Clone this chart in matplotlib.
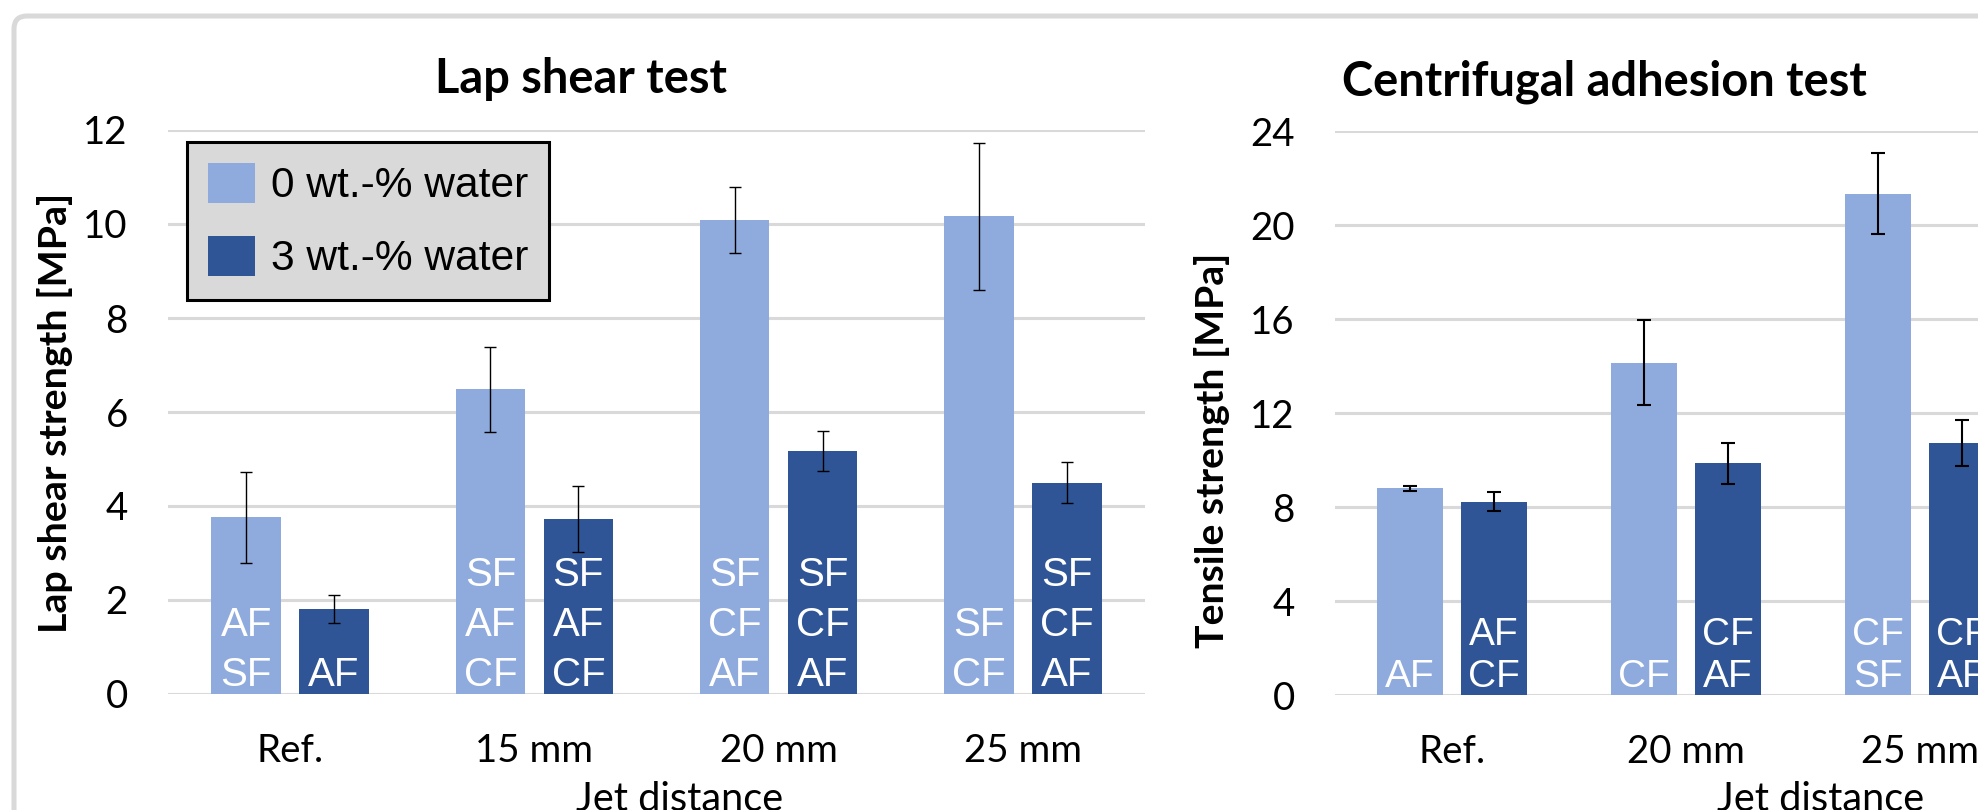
import matplotlib
matplotlib.use("Agg")
import matplotlib.pyplot as plt
from matplotlib.patches import FancyBboxPatch, Patch
import numpy as np

# ---------------- data ----------------
lap_categories = ["Ref.", "15 mm", "20 mm", "25 mm"]
lap_0 = [3.76, 6.48, 10.09, 10.16]
lap_0_err = [0.97, 0.91, 0.70, 1.56]
lap_3 = [1.81, 3.72, 5.17, 4.50]
lap_3_err = [0.29, 0.70, 0.43, 0.43]
lap_0_modes = [["AF", "SF"], ["SF", "AF", "CF"], ["SF", "CF", "AF"], ["SF", "CF"]]
lap_3_modes = [["AF"], ["SF", "AF", "CF"], ["SF", "CF", "AF"], ["SF", "CF", "AF"]]
lap_ticks = [0, 2, 4, 6, 8, 10, 12]

cen_categories = ["Ref.", "20 mm", "25 mm"]
cen_0 = [8.80, 14.14, 21.33]
cen_0_err = [0.10, 1.82, 1.72]
cen_3 = [8.23, 9.86, 10.71]
cen_3_err = [0.39, 0.86, 0.98]
cen_0_modes = [["AF"], ["CF"], ["CF", "SF"]]
cen_3_modes = [["AF", "CF"], ["CF", "AF"], ["CF", "AF"]]
cen_ticks = [0, 4, 8, 12, 16, 20, 24]

series_names = ["0 wt.-% water", "3 wt.-% water"]

# ---------------- style ----------------
LIGHT = "#8FAADC"
DARK = "#2F5597"
GRID = "#D9D9D9"
W, H = 1978, 810
DPI = 100
LABEL_FONT = "Lato"
BAR_FONT = "Liberation Sans"

fig = plt.figure(figsize=(W / DPI, H / DPI), dpi=DPI)
fig.patch.set_facecolor("white")
renderer = fig.canvas.get_renderer()


def size_for(text, target_px, family, weight="normal"):
    """font size (pt) so that the text's width is target_px"""
    t = fig.text(0, 0, text, fontsize=20, family=family, fontweight=weight)
    w = t.get_window_extent(renderer).width
    t.remove()
    return 20 * target_px / w


# outer rounded frame
frame = FancyBboxPatch((14 / DPI, -2.0), 30.0, (H - 16) / DPI + 2.0,
                       boxstyle="round,pad=0,rounding_size=0.13",
                       transform=fig.dpi_scale_trans, fill=False,
                       ec=GRID, lw=3.6, zorder=0)
fig.add_artist(frame)

TICK_FS = size_for("15 mm", 118, LABEL_FONT)


def px_rect(x0, x1, y_top, y_bot):
    return [x0 / W, 1 - y_bot / H, (x1 - x0) / W, (y_bot - y_top) / H]


def draw_panel(ax, cats, v0, e0, v3, e3, m0, m3, ticks, ymax, xmax,
               line_step_px, ew, cap, fs_bar):
    x = np.arange(len(cats))
    bw = 0.285
    off = 0.18
    ax.bar(x - off, v0, bw, color=LIGHT, zorder=2)
    ax.bar(x + off, v3, bw, color=DARK, zorder=2)
    ax.errorbar(x - off, v0, yerr=e0, fmt="none", ecolor="black",
                elinewidth=ew, capsize=cap, capthick=ew, zorder=3)
    ax.errorbar(x + off, v3, yerr=e3, fmt="none", ecolor="black",
                elinewidth=ew, capsize=cap, capthick=ew, zorder=3)
    for xs, modes in ((x - off, m0), (x + off, m3)):
        for xi, lines in zip(xs, modes):
            for i, t in enumerate(reversed(lines)):
                ax.annotate(t, xy=(xi, 0), xytext=(0, (8 + i * line_step_px) * 0.72),
                            textcoords="offset points", ha="center", va="baseline",
                            color="white", fontsize=fs_bar, family=BAR_FONT, zorder=4)
    ax.set_xlim(-0.5, xmax)
    ax.set_ylim(0, ymax)
    ax.set_yticks(ticks)
    ax.set_xticks(x)
    ax.set_xticklabels(cats)
    ax.grid(axis="y", color=GRID, lw=2.2, zorder=0)
    ax.set_axisbelow(True)
    for s in ax.spines.values():
        s.set_visible(False)
    ax.tick_params(axis="both", length=0, labelsize=TICK_FS)
    ax.tick_params(axis="y", pad=29)
    ax.tick_params(axis="x", pad=28)
    for lab in ax.get_xticklabels() + ax.get_yticklabels():
        lab.set_family(LABEL_FONT)


# left panel
ax1 = fig.add_axes(px_rect(168, 1145, 130, 694))
draw_panel(ax1, lap_categories, lap_0, lap_0_err, lap_3, lap_3_err,
           lap_0_modes, lap_3_modes, lap_ticks, 12, 3.5, 50, 1.0, 4.0, 29)

# right panel (cut off at the image edge)
ax2 = fig.add_axes(px_rect(1335, 1978, 131, 695))
draw_panel(ax2, cen_categories, cen_0, cen_0_err, cen_3, cen_3_err,
           cen_0_modes, cen_3_modes, cen_ticks, 24, -0.5 + 643 / 234, 42, 1.5, 4.7, 28)

# titles
fig.text(581 / W, 1 - 93 / H, "Lap shear test", ha="center", va="baseline",
         fontsize=size_for("Lap shear test", 292, LABEL_FONT, "bold"),
         fontweight="bold", family=LABEL_FONT)
fig.text(1342 / W, 1 - 96 / H, "Centrifugal adhesion test", ha="left", va="baseline",
         fontsize=size_for("Centrifugal adhesion test", 526, LABEL_FONT, "bold"),
         fontweight="bold", family=LABEL_FONT)

# axis titles
fig.text(55 / W, 1 - 413 / H, "Lap shear strength [MPa]", rotation=90,
         ha="center", va="center",
         fontsize=size_for("Lap shear strength [MPa]", 440, LABEL_FONT, "bold"),
         fontweight="bold", family=LABEL_FONT)
fig.text(1212 / W, 1 - 450 / H, "Tensile strength [MPa]", rotation=90,
         ha="center", va="center",
         fontsize=size_for("Tensile strength [MPa]", 395, LABEL_FONT, "bold"),
         fontweight="bold", family=LABEL_FONT)
XL_FS = size_for("Jet distance", 208, LABEL_FONT)
fig.text(680 / W, 1 - 781 / H, "Jet distance", ha="center", va="top",
         fontsize=XL_FS, family=LABEL_FONT)
fig.text(1821 / W, 1 - 781 / H, "Jet distance", ha="center", va="top",
         fontsize=XL_FS, family=LABEL_FONT)

# legend
LEG_FS = size_for(series_names[0], 257, BAR_FONT)
fpx = LEG_FS / 72 * DPI
handles = [Patch(facecolor=LIGHT), Patch(facecolor=DARK)]
leg = ax1.legend(handles, series_names, loc="upper left",
                 bbox_to_anchor=(187 / W, 1 - 142 / H), bbox_transform=fig.transFigure,
                 borderaxespad=0, fancybox=False, framealpha=1, facecolor="#D9D9D9",
                 edgecolor="black", prop={"family": BAR_FONT, "size": LEG_FS},
                 handlelength=47 / fpx, handleheight=45 / fpx, handletextpad=16 / fpx,
                 labelspacing=0.7, borderpad=0.49)
leg.get_frame().set_linewidth(2.2)
leg.set_zorder(10)

fig.savefig("out.png", dpi=DPI, facecolor="white")
